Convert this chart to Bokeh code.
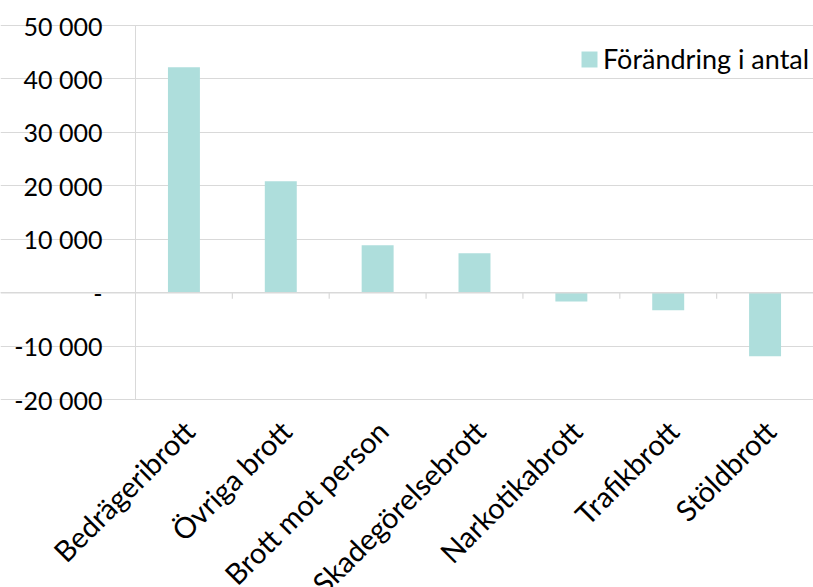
from math import pi
from bokeh.plotting import figure
from bokeh.models import (ColumnDataSource, Range1d, Legend, LegendItem,
                          Span, FixedTicker)
from bokeh.core.properties import value
from bokeh.embed import file_html
from bokeh.resources import INLINE

categories = ["Bedrägeribrott", "Övriga brott", "Brott mot person", "Skadegörelsebrott",
              "Narkotikabrott", "Trafikbrott", "Stöldbrott"]
values = [42200, 20850, 8860, 7360, -1650, -3300, -11900]
series_name = "Förändring i antal"
y_ticks = [-20000, -10000, 0, 10000, 20000, 30000, 40000, 50000]
y_tick_labels = ["-20 000", "-10 000", "-", "10 000", "20 000", "30 000", "40 000", "50 000"]

BAR = "#AEDEDC"
GRID = "#D9D9D9"
FONT = "Lato"
TXT = "#000000"

# layout in pixels: the value axis runs from TOP to TOP + AXIS_PX, starting at x = LEFT
W, H = 813, 587
TOP, LEFT, AXIS_PX = 25, 135, 374
n = len(categories)
span = y_ticks[-1] - y_ticks[0]
per_px = span / AXIS_PX
x_start = -LEFT * n / (W - LEFT)
y_end = y_ticks[-1] + TOP * per_px
y_start = y_ticks[0] - (H - TOP - AXIS_PX) * per_px

p = figure(x_range=Range1d(x_start, n), y_range=Range1d(y_start, y_end),
           width=W, height=H, output_backend="svg", toolbar_location=None,
           x_axis_location=None,
           min_border_left=0, min_border_right=0, min_border_top=0, min_border_bottom=0)
p.outline_line_color = None
p.background_fill_color = "white"
p.border_fill_color = "white"
p.xgrid.grid_line_color = None

pos = [i + 0.5 for i in range(n)]
src = ColumnDataSource(dict(x=pos, cat=categories, val=values,
                            ybase=[y_ticks[0]] * n))
r = p.vbar(x="x", top="val", bottom=0, width=0.33, source=src,
           fill_color=BAR, line_color=None)

# grid (horizontal only, across the category area)
p.ygrid.grid_line_color = GRID
p.ygrid.ticker = FixedTicker(ticks=y_ticks)
p.ygrid.bounds = (0, n)

# zero axis line and category boundary ticks
p.add_layout(Span(location=0, dimension="width", line_color=GRID, line_width=1.5))
tick_len = 6 * per_px
bsrc = ColumnDataSource(dict(x=list(range(1, n))))
p.segment(x0="x", x1="x", y0=0, y1=-tick_len, source=bsrc, line_color=GRID, line_width=1.2)

# y axis pinned at the left edge of the category area
ya = p.yaxis[0]
ya.fixed_location = 0
ya.bounds = (y_ticks[0], y_ticks[-1])
ya.ticker = FixedTicker(ticks=y_ticks)
ya.major_label_overrides = dict(zip(y_ticks, y_tick_labels))
ya.minor_tick_line_color = None
ya.major_tick_in = 0
ya.major_tick_out = 8
ya.major_tick_line_color = GRID
ya.axis_line_color = GRID
ya.major_label_standoff = 25
ya.major_label_text_font = FONT
ya.major_label_text_font_size = "25px"
ya.major_label_text_color = TXT

# category labels (rotated, below the value axis)
p.text(x="x", y="ybase", text="cat", source=src,
       angle=pi / 4, text_align="right", text_baseline="middle",
       x_offset=5, y_offset=26,
       text_font=value(FONT), text_font_size="29px", text_color=TXT)

legend = Legend(items=[LegendItem(label=series_name, renderers=[r])],
                location=(579, 512), padding=0, margin=0, spacing=0,
                glyph_width=20, glyph_height=20, label_standoff=4,
                label_text_font=FONT, label_text_font_size="27px", label_text_color=TXT,
                border_line_color=None, background_fill_alpha=0)
p.add_layout(legend)

open("out.html", "w").write(file_html(p, INLINE))
